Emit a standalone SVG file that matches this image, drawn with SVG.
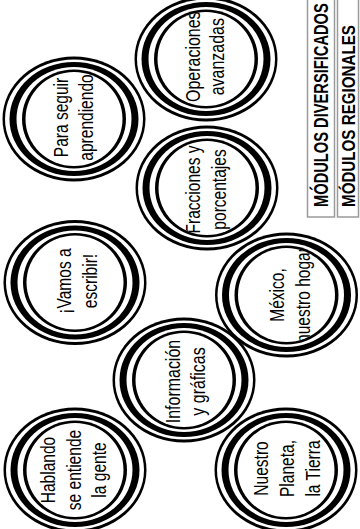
<svg xmlns="http://www.w3.org/2000/svg" xmlns:xlink="http://www.w3.org/1999/xlink" width="360" height="529" viewBox="0 0 360 529">
<style>
.t{font-family:"Liberation Sans",Arial,sans-serif;font-size:21px;fill:#000;text-anchor:middle}
.h{font-family:"Liberation Sans",Arial,sans-serif;font-weight:bold;font-size:20px;fill:#000}
.box{fill:none;stroke:#9a9a9a;stroke-width:1.5}
</style>
<defs>
<g id="ring">
<ellipse rx="71.5" ry="62.5" fill="#000"/>
<ellipse rx="69" ry="59.5" fill="#fff"/>
<ellipse rx="64.5" ry="57" fill="#000"/>
<ellipse rx="57.5" ry="52" fill="#fff"/>
<ellipse rx="52" ry="49.5" fill="#000"/>
<ellipse rx="48.5" ry="47" fill="#fff"/>
</g>
<clipPath id="inner"><ellipse rx="48.5" ry="47"/></clipPath>
</defs>
<rect width="360" height="529" fill="#fff"/>
<g id="connectors"></g>
<g id="n-para" transform="translate(74,119)">
<use xlink:href="#ring" href="#ring"/>
<g clip-path="url(#inner)"><text class="t" transform="rotate(-90) scale(0.74,1)"><tspan x="2" y="-6">Para seguir</tspan><tspan x="2" y="19">aprendiendo</tspan></text></g>
</g>
<g id="n-operaciones" transform="translate(206,59)">
<use xlink:href="#ring" href="#ring"/>
<g clip-path="url(#inner)"><text class="t" transform="rotate(-90) scale(0.76,1)"><tspan x="3" y="-6">Operaciones</tspan><tspan x="3" y="18">avanzadas</tspan></text></g>
</g>
<g id="n-vamos" transform="translate(75,282.5)">
<use xlink:href="#ring" href="#ring"/>
<g clip-path="url(#inner)"><text class="t" transform="rotate(-90) scale(0.74,1)"><tspan x="2" y="-4">¡Vamos a</tspan><tspan x="2" y="22">escribir!</tspan></text></g>
</g>
<g id="n-fracciones" transform="translate(207,188)">
<use xlink:href="#ring" href="#ring"/>
<g clip-path="url(#inner)"><text class="t" transform="rotate(-90) scale(0.74,1)"><tspan x="-2" y="-7">Fracciones y</tspan><tspan x="-2" y="19">porcentajes</tspan></text></g>
</g>
<g id="n-mexico" transform="translate(286.5,295)">
<use xlink:href="#ring" href="#ring"/>
<g clip-path="url(#inner)"><text class="t" transform="rotate(-90) scale(0.74,1)"><tspan x="0" y="-3">México,</tspan><tspan x="0" y="24">nuestro hogar</tspan></text></g>
</g>
<g id="n-informacion" transform="translate(184,380)">
<use xlink:href="#ring" href="#ring"/>
<g clip-path="url(#inner)"><text class="t" transform="rotate(-90) scale(0.76,1)"><tspan x="-2" y="-4">Información</tspan><tspan x="-2" y="21">y gráficas</tspan></text></g>
</g>
<g id="n-hablando" transform="translate(75,470)">
<use xlink:href="#ring" href="#ring"/>
<g clip-path="url(#inner)"><text class="t" transform="rotate(-90) scale(0.74,1)"><tspan x="0" y="-20">Hablando</tspan><tspan x="0" y="6">se entiende</tspan><tspan x="0" y="31">la gente</tspan></text></g>
</g>
<g id="n-nuestro" transform="translate(286,470)">
<use xlink:href="#ring" href="#ring"/>
<g clip-path="url(#inner)"><text class="t" transform="rotate(-90) scale(0.74,1)"><tspan x="2" y="-18">Nuestro</tspan><tspan x="2" y="8">Planeta,</tspan><tspan x="2" y="34">la Tierra</tspan></text></g>
</g>
<g id="n-diversificados">
<rect class="box" x="307.5" y="-5" width="27" height="222"/>
<text class="h" transform="translate(327.5,207) rotate(-90) scale(0.734,1)">MÓDULOS DIVERSIFICADOS</text>
</g>
<g id="n-regionales">
<rect class="box" x="337.5" y="-5" width="21" height="222"/>
<text class="h" transform="translate(354.5,207) rotate(-90) scale(0.82,1)" style="font-size:18.5px">MÓDULOS REGIONALES</text>
</g>
</svg>
